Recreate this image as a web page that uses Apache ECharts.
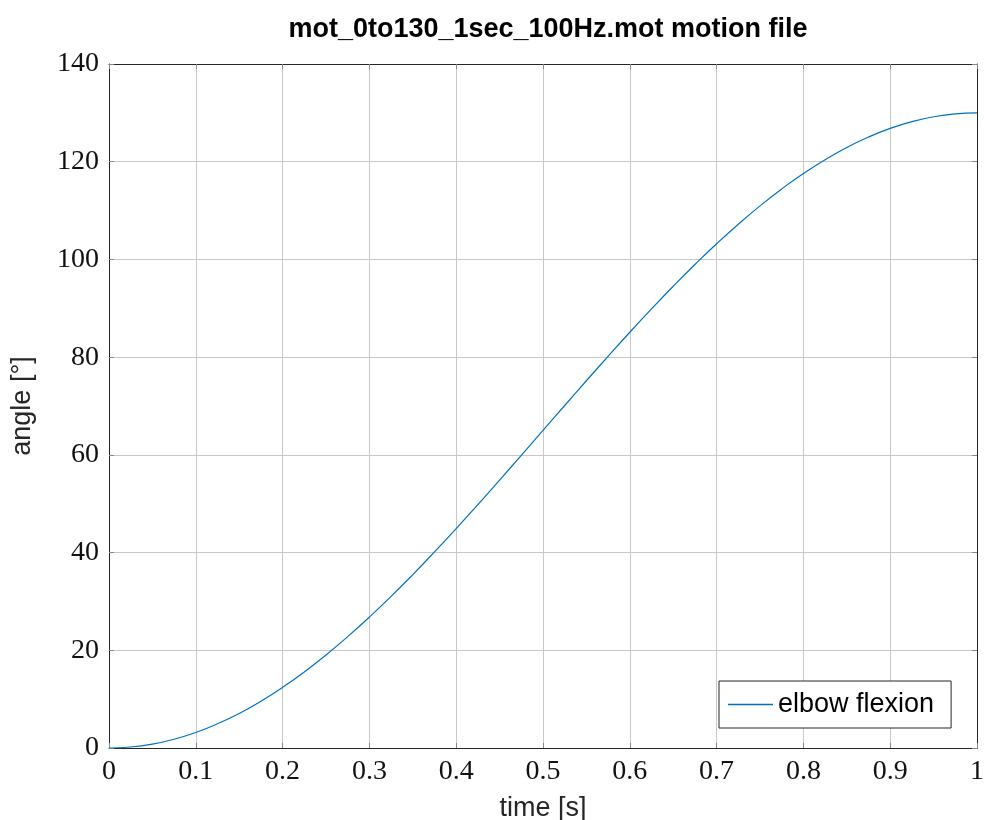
<!DOCTYPE html>
<html>
<head>
<meta charset="utf-8">
<script src="https://cdn.jsdelivr.net/npm/echarts@6/dist/echarts.min.js"></script>
<style>html,body{margin:0;padding:0;background:#fff}#c{width:984px;height:820px}</style>
</head>
<body>
<div id="c"></div>
<script>
const titleText = 'mot_0to130_1sec_100Hz.mot motion file';
const seriesName = 'elbow flexion';
const xName = 'time [s]';
const yName = 'angle [°]';
const timeValues = [0,0.025,0.05,0.075,0.1,0.125,0.15,0.175,0.2,0.225,0.25,0.275,0.3,0.325,0.35,0.375,0.4,0.425,0.45,0.475,0.5,0.525,0.55,0.575,0.6,0.625,0.65,0.675,0.7,0.725,0.75,0.775,0.8,0.825,0.85,0.875,0.9,0.925,0.95,0.975,1];
const angleValues = [0,0.20,0.80,1.80,3.18,4.95,7.08,9.58,12.41,15.57,19.04,22.79,26.79,31.04,35.49,40.13,44.91,49.83,54.83,59.90,65.00,70.10,75.17,80.17,85.09,89.87,94.51,98.96,103.21,107.21,110.96,114.43,117.59,120.42,122.92,125.05,126.82,128.20,129.20,129.80,130];
const xTicks = {min: 0, max: 1, interval: 0.1};
const yTicks = {min: 0, max: 140, interval: 20};

const chart = echarts.init(document.getElementById('c'), null, {renderer: 'canvas'});
const serif = '"Liberation Serif", "DejaVu Serif", serif';
const sans = '"Liberation Sans", Arial, Helvetica, sans-serif';
const gridColor = '#c8c8c8';
const axisColor = '#262626';
const points = timeValues.map((t, i) => [t, angleValues[i]]);

function baseX(pos, show) {
  return {
    type: 'value', position: pos, min: xTicks.min, max: xTicks.max, interval: xTicks.interval,
    axisLine: {show: true, onZero: false, lineStyle: {color: axisColor, width: 1}},
    axisTick: {show: true, inside: true, length: 5, lineStyle: {color: '#888'}},
    axisLabel: {show: show, fontFamily: serif, fontSize: 28, color: '#111', margin: 10,
      formatter: v => String(+v.toFixed(1))},
    splitLine: {show: show, lineStyle: {color: gridColor, width: 1}},
    name: show ? xName : '', nameLocation: 'middle', nameGap: 47,
    nameTextStyle: {fontFamily: sans, fontSize: 27, color: '#262626'}
  };
}
function baseY(pos, show) {
  return {
    type: 'value', position: pos, min: yTicks.min, max: yTicks.max, interval: yTicks.interval,
    axisLine: {show: true, onZero: false, lineStyle: {color: axisColor, width: 1}},
    axisTick: {show: true, inside: true, length: 5, lineStyle: {color: '#888'}},
    axisLabel: {show: show, fontFamily: serif, fontSize: 28, color: '#111', margin: 10},
    splitLine: {show: show, lineStyle: {color: gridColor, width: 1}},
    name: show ? yName : '', nameLocation: 'middle', nameGap: 73, nameRotate: 90,
    nameTextStyle: {fontFamily: sans, fontSize: 27, color: '#262626'}
  };
}

chart.setOption({
  animation: false,
  backgroundColor: '#ffffff',
  title: {
    text: titleText, left: 543, top: 11, textAlign: 'center',
    textStyle: {fontFamily: sans, fontSize: 27, fontWeight: 'bold', color: '#000'}
  },
  grid: {left: 109, top: 64, width: 868, height: 684, show: false, outerBoundsMode: 'none', containLabel: false},
  legend: {
    show: true, left: 719, top: 681, orient: 'horizontal',
    backgroundColor: '#fff', borderColor: axisColor, borderWidth: 1,
    padding: [10, 17, 10, 9], itemWidth: 45, itemHeight: 1.5, itemGap: 8,
    icon: 'rect',
    textStyle: {fontFamily: sans, fontSize: 27, color: '#000'},
    data: [seriesName]
  },
  xAxis: [baseX('bottom', true), baseX('top', false)],
  yAxis: [baseY('left', true), baseY('right', false)],
  series: [{
    name: seriesName, type: 'line', data: points, smooth: true, showSymbol: false,
    symbol: 'none', xAxisIndex: 0, yAxisIndex: 0,
    lineStyle: {color: '#0072BD', width: 1.2}, itemStyle: {color: '#0072BD'}
  }]
});
</script>
</body>
</html>
